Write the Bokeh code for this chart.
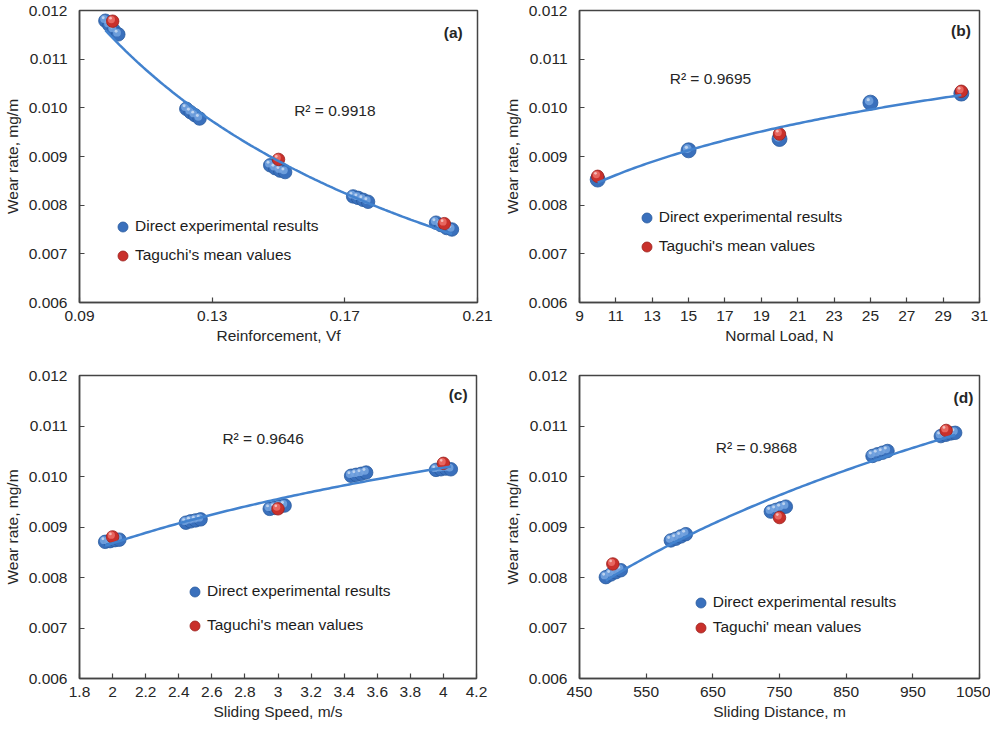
import numpy as np
from bokeh.plotting import figure
from bokeh.models import (Range1d, FixedTicker, Legend, LegendItem, Label,
                          ColumnDataSource, NumeralTickFormatter)
from bokeh.layouts import row, column
from bokeh.transform import dodge
from bokeh.embed import file_html
from bokeh.resources import INLINE

FONT = "Liberation Sans"
FS = "15.5px"
TXT = "#262626"

# ---------------- data ----------------
# (a) Reinforcement
a_exp_x = [0.0978, 0.0990, 0.1003, 0.1017, 0.1222, 0.1235, 0.1248, 0.1262,
           0.1475, 0.1490, 0.1505, 0.1520, 0.1725, 0.1740, 0.1755, 0.1770,
           0.1975, 0.1990, 0.2007, 0.2023]
a_exp_y = [0.01179, 0.01170, 0.01160, 0.01151, 0.00998, 0.00991, 0.00985, 0.00978,
           0.00882, 0.00876, 0.00871, 0.00868, 0.00818, 0.00815, 0.00811, 0.00807,
           0.00764, 0.00759, 0.00753, 0.00750]
a_tag_x = [0.10, 0.15, 0.20]
a_tag_y = [0.01178, 0.00894, 0.00762]
a_xticks = [0.09, 0.13, 0.17, 0.21]

# (b) Normal load
b_exp_x = [10, 15, 20, 25, 30]
b_exp_y = [0.008526, 0.009127, 0.009360, 0.010107, 0.010293]
b_tag_x = [10, 20, 30]
b_tag_y = [0.008593, 0.009460, 0.010340]
b_xticks = [9, 11, 13, 15, 17, 19, 21, 23, 25, 27, 29, 31]

# (c) Sliding speed
c_exp_x = [1.955, 1.985, 2.015, 2.041, 2.443, 2.472, 2.502, 2.532,
           2.950, 2.980, 3.010, 3.040, 3.442, 3.472, 3.503, 3.533,
           3.955, 3.985, 4.015, 4.045]
c_exp_y = [0.008706, 0.008720, 0.008740, 0.008750, 0.009085, 0.009112, 0.009131, 0.009151,
           0.009359, 0.009379, 0.009406, 0.009425, 0.010014, 0.010033, 0.010053, 0.010078,
           0.010131, 0.010143, 0.010157, 0.010143]
c_tag_x = [2.0, 3.0, 4.0]
c_tag_y = [0.008804, 0.009360, 0.010261]
c_xticks = [1.8, 2.0, 2.2, 2.4, 2.6, 2.8, 3.0, 3.2, 3.4, 3.6, 3.8, 4.0, 4.2]

# (d) Sliding distance
d_exp_x = [489.5, 497.0, 504.5, 512.0, 587.0, 594.5, 602.0, 609.5,
           737.0, 744.5, 752.0, 759.5, 889.5, 897.0, 904.5, 912.0,
           992.0, 999.5, 1007.0, 1013.5]
d_exp_y = [0.008007, 0.008060, 0.008105, 0.008144, 0.008734, 0.008768, 0.008813, 0.008858,
           0.009305, 0.009338, 0.009370, 0.009403, 0.010407, 0.010440, 0.010471, 0.010505,
           0.010800, 0.010826, 0.010853, 0.010865]
d_tag_x = [500, 750, 1000]
d_tag_y = [0.008268, 0.009187, 0.010912]
d_xticks = [450, 550, 650, 750, 850, 950, 1050]

y_ticks = [0.006, 0.007, 0.008, 0.009, 0.010, 0.011, 0.012]

r2_texts = ["R\u00b2 = 0.9918", "R\u00b2 = 0.9695", "R\u00b2 = 0.9646", "R\u00b2 = 0.9868"]
panel_tags = ["(a)", "(b)", "(c)", "(d)"]
x_titles = ["Reinforcement, Vf", "Normal Load, N", "Sliding Speed, m/s", "Sliding Distance, m"]
leg_exp = "Direct experimental results"
leg_tag = ["Taguchi's mean values", "Taguchi's mean values",
           "Taguchi's mean values", "Taguchi' mean values"]


def fit_curve(xs, ys, kind):
    xs = np.asarray(xs, float)
    ys = np.asarray(ys, float)
    xx = np.linspace(xs.min(), xs.max(), 120)
    if kind == "power":
        b, a = np.polyfit(np.log(xs), np.log(ys), 1)
        yy = np.exp(a) * xx ** b
    else:  # logarithmic
        b, a = np.polyfit(np.log(xs), ys, 1)
        yy = a + b * np.log(xx)
    return xx, yy


def spheres(p, xs, ys, size, base, edge, mid, px_x, px_y):
    src = ColumnDataSource(dict(x=xs, y=ys))
    r = p.scatter("x", "y", source=src, size=size, fill_color=base,
                  line_color=edge, line_width=0.8)
    p.scatter(x=dodge("x", -1.3 * px_x), y=dodge("y", 1.7 * px_y), source=src,
              size=size * 0.58, fill_color=mid, fill_alpha=0.85, line_color=None)
    p.scatter(x=dodge("x", -2.2 * px_x), y=dodge("y", 3.0 * px_y), source=src,
              size=size * 0.22, fill_color="white", fill_alpha=0.55, line_color=None)
    return r


def panel(exp_x, exp_y, tag_x, tag_y, xr, xticks, xfmt, idx, fit_kind,
          r2_xy, tag_xy, leg_loc, leg_spacing, width, height, borders, blue_size=13.5):
    bl, br, bt, bb = borders
    fw = width - bl - br
    fh = height - bt - bb
    p = figure(width=width, height=height, output_backend="svg", toolbar_location=None,
               x_range=Range1d(*xr), y_range=Range1d(0.006, 0.012),
               min_border_left=bl, min_border_right=br, min_border_top=bt,
               min_border_bottom=bb)
    p.background_fill_color = "white"
    p.border_fill_color = "white"
    p.outline_line_color = "#444444"
    p.outline_line_width = 1.5
    p.xgrid.visible = False
    p.ygrid.visible = False

    for ax in (p.xaxis[0], p.yaxis[0]):
        ax.axis_line_color = "#444444"
        ax.axis_line_width = 1.5
        ax.major_tick_in = 5
        ax.major_tick_out = 0
        ax.major_tick_line_color = "#444444"
        ax.major_tick_line_width = 1.2
        ax.minor_tick_line_color = None
        ax.major_label_text_font = FONT
        ax.major_label_text_font_size = FS
        ax.major_label_text_color = TXT
        ax.axis_label_text_font = FONT
        ax.axis_label_text_font_size = FS
        ax.axis_label_text_font_style = "normal"
        ax.axis_label_text_color = TXT

    p.xaxis.ticker = FixedTicker(ticks=xticks)
    p.xaxis.formatter = NumeralTickFormatter(format=xfmt)
    p.xaxis.axis_label = x_titles[idx]
    p.xaxis.major_label_standoff = 8
    p.xaxis.axis_label_standoff = 3

    p.yaxis.ticker = FixedTicker(ticks=y_ticks)
    p.yaxis.formatter = NumeralTickFormatter(format="0.000")
    p.yaxis.axis_label = "Wear rate, mg/m"
    p.yaxis.major_label_standoff = 12
    p.yaxis.axis_label_standoff = 5

    px_x = (xr[1] - xr[0]) / fw
    px_y = 0.006 / fh

    rb = spheres(p, exp_x, exp_y, blue_size, "#3A70BC", "#285A9E", "#76A4E0", px_x, px_y)
    rr = spheres(p, tag_x, tag_y, 12.5, "#C9302B", "#9A211D", "#EC7068", px_x, px_y)

    fx, fy = fit_curve(exp_x, exp_y, fit_kind)
    p.line(fx, fy, line_color="#4282CE", line_width=2.5)

    p.add_layout(Label(x=r2_xy[0], y=r2_xy[1], text=r2_texts[idx], text_align="center",
                       text_baseline="middle", text_font=FONT, text_font_size=FS,
                       text_color=TXT))
    p.add_layout(Label(x=tag_xy[0], y=tag_xy[1], text=panel_tags[idx], text_align="center",
                       text_baseline="middle", text_font=FONT, text_font_size=FS,
                       text_font_style="bold", text_color=TXT))

    leg = Legend(items=[LegendItem(label=leg_exp, renderers=[rb]),
                        LegendItem(label=leg_tag[idx], renderers=[rr])],
                 location=leg_loc, padding=0, margin=0, spacing=leg_spacing,
                 glyph_width=25, glyph_height=25, label_standoff=0,
                 label_text_font=FONT, label_text_font_size=FS,
                 label_text_color="#1c1c1c", border_line_alpha=0,
                 background_fill_alpha=0)
    p.add_layout(leg)
    return p


pa = panel(a_exp_x, a_exp_y, a_tag_x, a_tag_y, (0.09, 0.21), a_xticks, "0.00", 0, "power",
           (0.167, 0.00994), (0.2027, 0.01154), (31, 34.2), 4, 500, 352, (77, 23, 10, 50))
pb = panel(b_exp_x, b_exp_y, b_tag_x, b_tag_y, (9, 31), b_xticks, "0", 1, "log",
           (16.2, 0.0106), (29.98, 0.01158), (54.7, 43.2), 4, 490, 352, (79, 11, 10, 48),
           blue_size=15)
pc = panel(c_exp_x, c_exp_y, c_tag_x, c_tag_y, (1.8, 4.2), c_xticks, "0.[0]", 2, "log",
           (2.91, 0.01075), (4.089, 0.011627), (103, 40.2), 9, 500, 374, (78, 24, 22, 48))
pd_ = panel(d_exp_x, d_exp_y, d_tag_x, d_tag_y, (450, 1050), d_xticks, "0", 3, "log",
            (715.5, 0.01058), (1026, 0.011567), (108.7, 38.5), 0, 490, 374, (79, 11, 23, 48))

layout = column(row(pa, pb), row(pc, pd_))
open("out.html", "w").write(file_html(layout, INLINE))
